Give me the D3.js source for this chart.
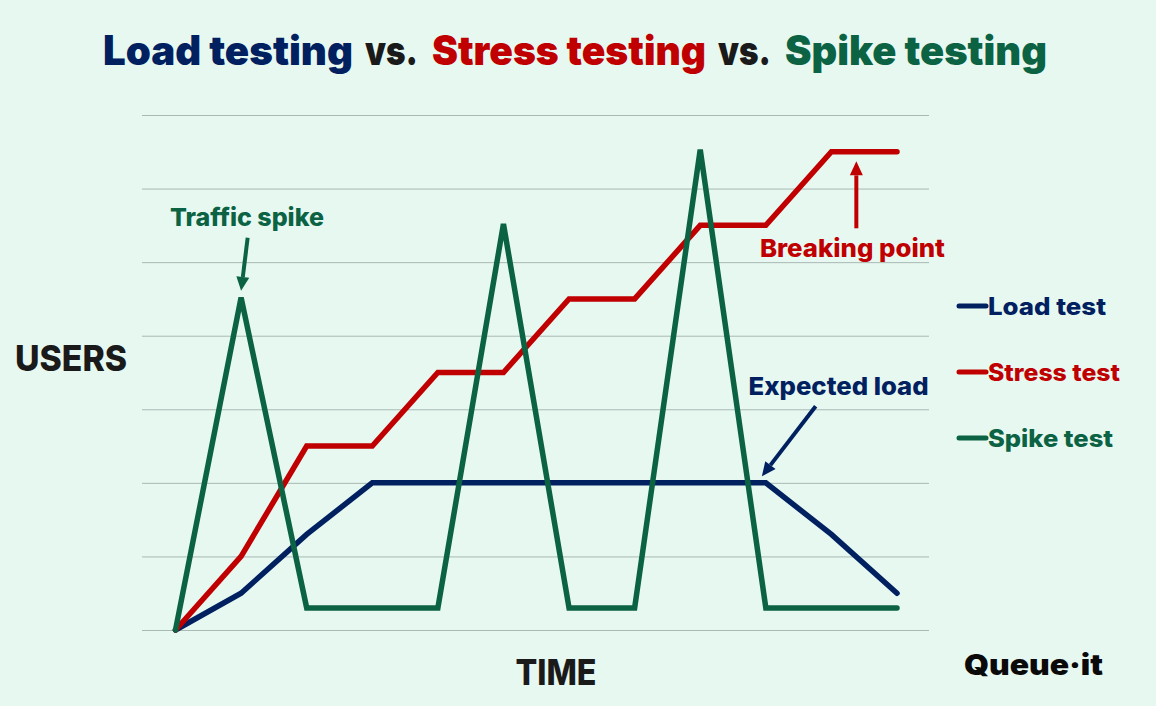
<!DOCTYPE html>
<html>
<head>
<meta charset="utf-8">
<script src="https://cdn.jsdelivr.net/npm/d3@7"></script>
<style>
  html, body { margin: 0; padding: 0; background: #e7f8f1; }
  svg { display: block; }
  text { font-family: Inter, sans-serif; font-weight: 800; }
</style>
</head>
<body>
<div id="chart"></div>
<script>
// time steps and series values, y in grid units
const timeSteps = [0, 1, 2, 3, 4, 5, 6, 7, 8, 9, 10, 11];
const loadTest   = [0, 0.5, 1.3, 2, 2, 2, 2, 2, 2, 2, 1.3, 0.5];
const stressTest = [0, 1, 2.5, 2.5, 3.5, 3.5, 4.5, 4.5, 5.5, 5.5, 6.5, 6.5];
const spikeTest  = [0, 4.52, 0.3, 0.3, 0.3, 5.52, 0.3, 0.3, 6.53, 0.3, 0.3, 0.3];
const gridTicks  = [0, 1, 2, 3, 4, 5, 6, 7];

const navy = '#002060';
const red = '#c00000';
const green = '#0b6344';
const ink = '#1a1a1a';

const width = 1156;
const height = 706;

const seriesNames = ['Load test', 'Stress test', 'Spike test'];
const seriesValues = [loadTest, stressTest, spikeTest];
const seriesColors = [navy, red, green];
const legendWidths = [118, 132, 125];

const titleParts = ['Load testing', 'vs.', 'Stress testing', 'vs.', 'Spike testing'];
const titleColors = [navy, ink, red, ink, green];
const titleStarts = [103, 365, 432, 718, 785];
const titleWidths = [250, 53, 274, 53, 262];

// callouts, in data units: text anchor, then arrow start and end
const calloutLabels = ['Traffic spike', 'Breaking point', 'Expected load'];
const calloutColors = [green, red, navy];
const calloutWidths = [154, 185, 180];
const calloutText = [[1.09, 5.49], [10.32, 5.07], [10.11, 3.19]];
const calloutFrom = [[1.1, 5.33], [10.38, 5.46], [9.76, 3.04]];
const calloutTo   = [[1.0, 4.61], [10.38, 6.37], [8.94, 2.09]];

const svg = d3.select('#chart').append('svg')
  .attr('width', width)
  .attr('height', height);

svg.append('rect')
  .attr('width', width)
  .attr('height', height)
  .attr('fill', '#e7f8f1');

const x = d3.scaleLinear().domain([0, 11]).range([175.5, 897]);
const y = d3.scaleLinear().domain([0, 7]).range([630, 115]);

// grid lines, no labels
const grid = svg.append('g')
  .attr('transform', 'translate(142,0)')
  .call(d3.axisLeft(y).tickValues(gridTicks).tickSize(-787).tickFormat(''));
grid.select('.domain').remove();
grid.selectAll('line').attr('stroke', '#a9b9b3').attr('stroke-width', 1);

const line = d3.line()
  .x((d, i) => x(timeSteps[i]))
  .y(d => y(d));

svg.selectAll('path.series')
  .data(seriesValues)
  .enter()
  .append('path')
  .attr('class', 'series')
  .attr('d', line)
  .attr('fill', 'none')
  .attr('stroke', (d, i) => seriesColors[i])
  .attr('stroke-width', 5.5)
  .attr('stroke-linejoin', 'miter')
  .attr('stroke-linecap', 'round');

// title, one text per colour
svg.selectAll('text.title')
  .data(titleParts)
  .enter()
  .append('text')
  .attr('class', 'title')
  .attr('x', (d, i) => titleStarts[i])
  .attr('y', 65)
  .attr('font-size', 41)
  .attr('textLength', (d, i) => titleWidths[i])
  .attr('lengthAdjust', 'spacingAndGlyphs')
  .style('font-weight', 900)
  .attr('fill', (d, i) => titleColors[i])
  .text(d => d);

// axis titles
svg.append('text')
  .attr('x', 71)
  .attr('y', 371)
  .attr('text-anchor', 'middle')
  .attr('font-size', 36)
  .attr('textLength', 112)
  .attr('lengthAdjust', 'spacingAndGlyphs')
  .attr('fill', ink)
  .text('USERS');

svg.append('text')
  .attr('x', 556)
  .attr('y', 685)
  .attr('text-anchor', 'middle')
  .attr('font-size', 36)
  .attr('textLength', 81)
  .attr('lengthAdjust', 'spacingAndGlyphs')
  .attr('fill', ink)
  .text('TIME');

// legend
const legend = svg.selectAll('g.legend')
  .data(seriesNames)
  .enter()
  .append('g')
  .attr('class', 'legend')
  .attr('transform', (d, i) => 'translate(959,' + (306 + i * 66) + ')');

legend.append('line')
  .attr('x1', 0)
  .attr('x2', 27)
  .attr('stroke', (d, i) => seriesColors[i])
  .attr('stroke-width', 5)
  .attr('stroke-linecap', 'round');

legend.append('text')
  .attr('x', 29)
  .attr('y', 9)
  .attr('font-size', 24)
  .attr('textLength', (d, i) => legendWidths[i])
  .attr('lengthAdjust', 'spacingAndGlyphs')
  .attr('fill', (d, i) => seriesColors[i])
  .text(d => d);

// callouts
svg.selectAll('text.callout')
  .data(calloutLabels)
  .enter()
  .append('text')
  .attr('class', 'callout')
  .attr('x', (d, i) => x(calloutText[i][0]))
  .attr('y', (d, i) => y(calloutText[i][1]))
  .attr('text-anchor', 'middle')
  .attr('font-size', 25)
  .attr('textLength', (d, i) => calloutWidths[i])
  .attr('lengthAdjust', 'spacingAndGlyphs')
  .attr('fill', (d, i) => calloutColors[i])
  .text(d => d);

calloutLabels.forEach((d, i) => {
  const x1 = x(calloutFrom[i][0]);
  const y1 = y(calloutFrom[i][1]);
  const x2 = x(calloutTo[i][0]);
  const y2 = y(calloutTo[i][1]);
  const a = Math.atan2(y2 - y1, x2 - x1);
  const headLen = 14;
  const headW = 6.5;
  const bx = x2 - headLen * Math.cos(a);
  const by = y2 - headLen * Math.sin(a);
  svg.append('line')
    .attr('x1', x1).attr('y1', y1)
    .attr('x2', bx).attr('y2', by)
    .attr('stroke', calloutColors[i])
    .attr('stroke-width', 4);
  svg.append('polygon')
    .attr('points', [
      [x2, y2],
      [bx - headW * Math.sin(a), by + headW * Math.cos(a)],
      [bx + headW * Math.sin(a), by - headW * Math.cos(a)]
    ].map(p => p.join(',')).join(' '))
    .attr('fill', calloutColors[i]);
});

// logo, as text
svg.append('text')
  .attr('x', 964)
  .attr('y', 675)
  .style('font-weight', 900)
  .attr('font-size', 29)
  .attr('textLength', 139)
  .attr('lengthAdjust', 'spacingAndGlyphs')
  .attr('fill', '#0a0a0a')
  .text('Queue·it');
</script>
</body>
</html>
